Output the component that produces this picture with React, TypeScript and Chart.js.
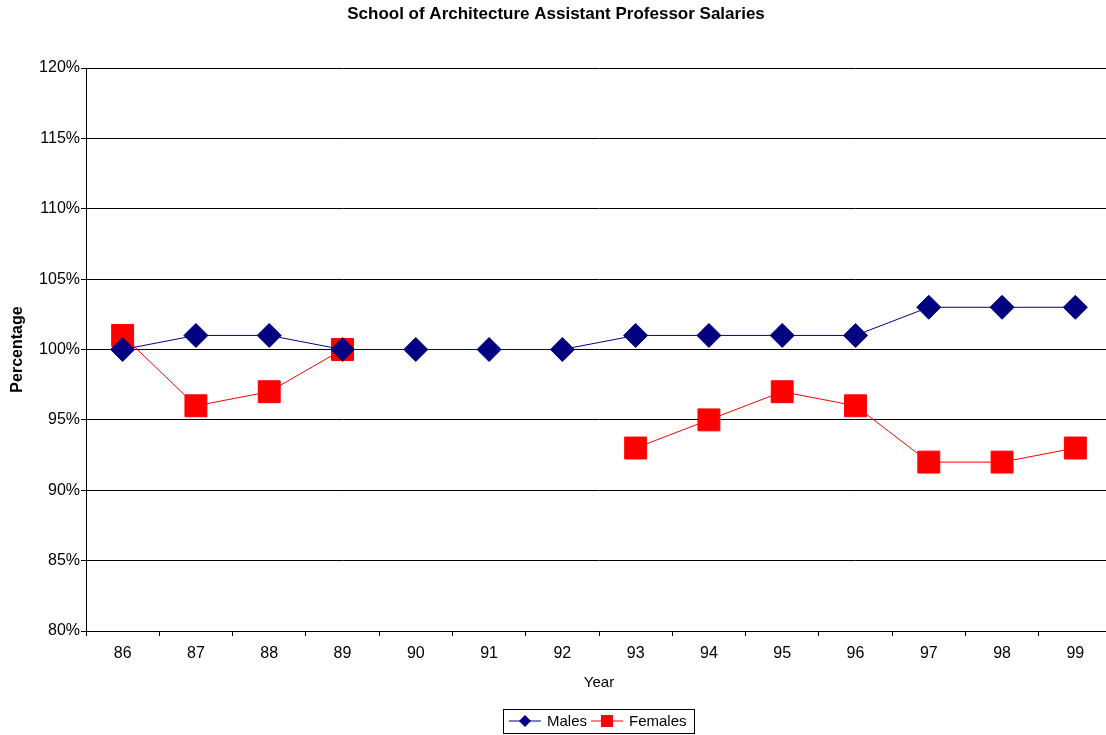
import React, { useEffect, useRef } from "react";
import { Chart, registerables } from "chart.js";

Chart.register(...registerables);

const years = ["86", "87", "88", "89", "90", "91", "92", "93", "94", "95", "96", "97", "98", "99"];
const males = [100, 101, 101, 100, 100, 100, 100, 101, 101, 101, 101, 103, 103, 103];
const females = [101, 96, 97, 100, null, null, null, 93, 95, 97, 96, 92, 92, 93];

const FONT = "'Liberation Sans', Arial, sans-serif";

const boxLegend = {
  id: "boxLegend",
  afterDraw(chart: any) {
    const ctx = chart.ctx;
    const ds = chart.data.datasets;
    ctx.save();
    ctx.font = `15px ${FONT}`;
    ctx.textBaseline = "middle";
    const cy = 721;
    let x = 509;
    const left = 503;
    ds.forEach((d: any) => {
      ctx.strokeStyle = d.borderColor;
      ctx.lineWidth = 1;
      ctx.beginPath();
      ctx.moveTo(x, cy);
      ctx.lineTo(x + 32, cy);
      ctx.stroke();
      ctx.fillStyle = d.pointBackgroundColor;
      const mx = x + 16;
      if (d.pointStyle === "rectRot") {
        ctx.beginPath();
        ctx.moveTo(mx, cy - 6);
        ctx.lineTo(mx + 6, cy);
        ctx.lineTo(mx, cy + 6);
        ctx.lineTo(mx - 6, cy);
        ctx.closePath();
        ctx.fill();
      } else {
        ctx.fillRect(mx - 6, cy - 6, 12, 12);
      }
      ctx.fillStyle = "#000";
      ctx.fillText(d.label, x + 38, cy + 1);
      x += 38 + ctx.measureText(d.label).width + 4;
    });
    ctx.strokeStyle = "#000";
    ctx.lineWidth = 1;
    ctx.strokeRect(left + 0.5, 709.5, 694 - left, 24);
    ctx.restore();
  },
};

export default function App() {
  const ref = useRef<HTMLCanvasElement>(null);
  useEffect(() => {
    const chart = new Chart(ref.current!, {
      type: "line",
      data: {
        labels: years,
        datasets: [
          {
            label: "Males",
            data: males,
            borderColor: "#000080",
            backgroundColor: "#000080",
            pointBackgroundColor: "#000080",
            pointBorderColor: "#000080",
            pointStyle: "rectRot",
            pointRadius: 12,
            borderWidth: 1,
            pointBorderWidth: 1,
            tension: 0,
          },
          {
            label: "Females",
            data: females,
            borderColor: "#FF0000",
            backgroundColor: "#FF0000",
            pointBackgroundColor: "#FF0000",
            pointBorderColor: "#FF0000",
            pointStyle: "rect",
            pointRadius: 15.5,
            borderWidth: 1,
            pointBorderWidth: 1,
            spanGaps: false,
            tension: 0,
          },
        ],
      },
      options: {
        responsive: false,
        animation: false,
        layout: { autoPadding: false, padding: { left: 0, right: 0, top: 0, bottom: 38 } },
        plugins: {
          legend: { display: false },
          tooltip: { enabled: false },
          title: {
            display: true,
            text: "School of Architecture Assistant Professor Salaries",
            color: "#000",
            font: { family: FONT, size: 17, weight: "bold" },
            padding: { top: 4, bottom: 43.6 },
          },
        },
        scales: {
          x: {
            offset: true,
            grid: {
              offset: true,
              drawOnChartArea: false,
              drawTicks: true,
              tickLength: 5,
              color: "#000",
            },
            border: { color: "#000", width: 1 },
            ticks: { color: "#000", font: { family: FONT, size: 16 }, padding: 8, maxRotation: 0, autoSkip: false },
            title: {
              display: true,
              text: "Year",
              color: "#000",
              font: { family: FONT, size: 15 },
              padding: { top: 0, bottom: 5 },
            },
            afterFit: (s: any) => {
              s.height = 66;
            },
          },
          y: {
            min: 80,
            max: 120,
            grid: { color: "#000", lineWidth: 1, tickLength: 5, drawTicks: true },
            border: { color: "#000", width: 1 },
            ticks: {
              stepSize: 5,
              color: "#000",
              font: { family: FONT, size: 16 },
              padding: 1,
              callback: (v: any) => v + "%",
            },
            title: {
              display: true,
              text: "Percentage",
              color: "#000",
              font: { family: FONT, size: 16, weight: "bold" },
              padding: { top: 8, bottom: 0 },
            },
            afterFit: (s: any) => {
              s.width = 86;
            },
          },
        },
      },
      plugins: [boxLegend],
    });
    return () => chart.destroy();
  }, []);
  return (
    <div style={{ position: "fixed", left: 0, top: 0, width: 1106, height: 735, overflow: "hidden", background: "#fff" }}>
      <canvas ref={ref} width={1112} height={735} style={{ display: "block" }} />
    </div>
  );
}
